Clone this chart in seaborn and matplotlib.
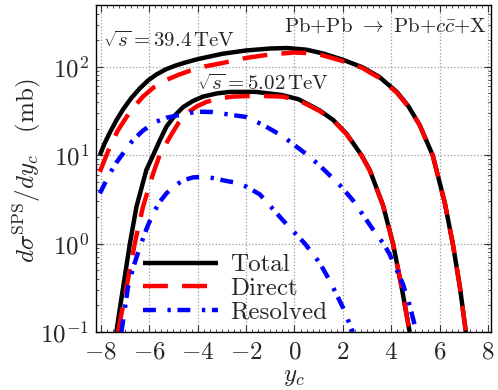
import matplotlib
matplotlib.use("Agg")
import numpy as np
import pandas as pd
import matplotlib.pyplot as plt
import seaborn as sns
from matplotlib.ticker import MultipleLocator, LogLocator, NullFormatter

# ---------------- data ----------------
# sqrt(s) = 39.4 TeV
x_tot_394 = [-8.04, -7.85, -7.63, -7.35, -7.08, -6.75, -6.39, -6.05, -5.7, -5.3, -4.88, -4.5,
             -4.0, -3.0, -2.0, -1.0, -0.3, 0.5, 1.2, 2.0, 2.8, 3.5, 4.23, 4.7, 5.17, 5.71,
             6.21, 6.54, 6.83, 7.08]
y_tot_394 = [10, 13.5, 18, 25, 33, 44, 57, 70, 82, 94, 104, 112,
             122, 140, 153, 161, 163, 156, 141, 120, 99, 77, 52, 36, 22, 10,
             2.9, 1.0, 0.33, 0.1]

x_dir_394 = [-8.04, -7.63, -7.3, -6.94, -6.6, -6.26, -5.8, -5.29, -4.8, -4.33, -3.7, -3.0,
             -2.0, -1.0, 0.0, 0.8, 1.2, 2.0, 2.8, 3.5, 4.23, 4.7, 5.17, 5.71, 6.21, 6.54,
             6.83, 7.08]
y_dir_394 = [6.5, 12.4, 19, 27, 36, 46, 59, 71, 81, 90, 101, 110,
             126, 138, 145, 142, 134, 116, 97, 75, 51, 35.5, 22, 10, 2.9, 1.0,
             0.33, 0.1]

x_res_394 = [-8.04, -7.63, -7.35, -7.08, -6.7, -6.26, -5.7, -5.3, -4.88, -4.4, -3.91, -3.4,
             -2.95, -1.98, -1.3, -0.5, 0.0, 0.55, 1.05, 1.87, 2.41, 3.24, 3.7, 3.94, 4.48,
             4.76, 5.04]
y_res_394 = [3.7, 6.2, 8.3, 10.5, 14.5, 19, 24, 26.5, 28, 30, 31, 30.8,
             29.5, 27, 22, 16.5, 13, 10, 7.6, 4.6, 3.1, 1.45, 0.98, 0.75, 0.35,
             0.2, 0.1]

# sqrt(s) = 5.02 TeV
x_tot_502 = [-7.36, -7.08, -6.8, -6.53, -6.12, -5.84, -5.55, -5.29, -4.95, -4.6, -4.2, -3.78,
             -3.2, -2.67, -1.6, -0.53, 0.16, 1.05, 1.6, 2.15, 2.77, 3.11, 3.66, 4.07, 4.42,
             4.76]
y_tot_502 = [0.1, 0.32, 1.0, 2.6, 6.8, 10, 15, 21, 28, 35, 41, 46,
             50, 52, 52, 48, 43, 32, 25, 17.5, 10, 6.8, 2.7, 1.0, 0.33,
             0.1]

x_dir_502 = [-7.29, -6.94, -6.6, -6.26, -5.84, -5.57, -5.15, -4.8, -4.46, -4.05, -3.64, -3.1,
             -2.54, -1.57, -0.5, 0.16, 1.05, 1.6, 2.15, 2.77, 3.11, 3.66, 4.07, 4.42, 4.76]
y_dir_502 = [0.1, 0.32, 1.0, 2.6, 6.2, 10, 16, 23, 29.5, 35.5, 40, 44,
             46, 47, 46, 42, 31.5, 24.7, 17.3, 9.9, 6.7, 2.7, 1.0, 0.33, 0.1]

x_res_502 = [-7.15, -6.88, -6.65, -6.39, -6.1, -5.84, -5.55, -5.29, -4.95, -4.6, -4.2, -3.78,
             -3.35, -2.95, -2.45, -1.98, -1.43, -0.48, 0.43, 1.05, 1.46, 2.0, 2.41]
y_res_502 = [0.1, 0.32, 0.55, 0.91, 1.5, 2.2, 3.0, 3.7, 4.5, 5.2, 5.6, 5.7,
             5.5, 5.2, 4.9, 4.4, 3.6, 1.84, 1.0, 0.6, 0.38, 0.19, 0.1]

x_ticks = [-8, -6, -4, -2, 0, 2, 4, 6, 8]
legend_labels = ["Total", "Direct", "Resolved"]
energy_labels = [r"$\sqrt{s}=39.4\,\mathrm{TeV}$", r"$\sqrt{s}=5.02\,\mathrm{TeV}$"]
process_label = r"Pb+Pb $\rightarrow$ Pb+$c\bar{c}$+X"

# ---------------- style ----------------
sns.set_theme(style="ticks")
plt.rcParams["font.family"] = ["cmr10", "DejaVu Serif"]
plt.rcParams["mathtext.fontset"] = "cm"
plt.rcParams["axes.formatter.use_mathtext"] = True
plt.rcParams["axes.unicode_minus"] = True

fig = plt.figure(figsize=(4.98, 3.90), dpi=100)
ax = fig.add_axes([96 / 498, 1 - 332 / 390, 395 / 498, 327 / 390])

LW = 3.2
styles = {
    "Total": dict(color="black", dashes=None),
    "Direct": dict(color="#ff0000", dashes=(5.6, 3.2)),
    "Resolved": dict(color="#0000ff", dashes=(2.9, 2.6, 0.75, 1.5)),
}

series = [
    ("Total", x_tot_394, y_tot_394),
    ("Total", x_tot_502, y_tot_502),
    ("Direct", x_dir_394, y_dir_394),
    ("Direct", x_dir_502, y_dir_502),
    ("Resolved", x_res_394, y_res_394),
    ("Resolved", x_res_502, y_res_502),
]

handles = {}
for kind, xs, ys in series:
    df = pd.DataFrame({"y_c": xs, "sigma": ys})
    n_before = len(ax.lines)
    sns.lineplot(data=df, x="y_c", y="sigma", ax=ax, color=styles[kind]["color"],
                 linewidth=LW, sort=False, estimator=None, legend=False)
    line = ax.lines[n_before]
    if styles[kind]["dashes"] is not None:
        line.set_dashes(styles[kind]["dashes"])
    line.set_solid_capstyle("butt")
    line.set_dash_capstyle("butt")
    line.set_solid_joinstyle("round")
    handles.setdefault(kind, line)

ax.set_yscale("log")
ax.set_xlim(-8.2, 8.12)
ax.set_ylim(0.1, 500)

ax.xaxis.set_major_locator(MultipleLocator(2))
ax.xaxis.set_minor_locator(MultipleLocator(0.25))
ax.set_xticks(x_ticks)
ax.yaxis.set_major_locator(LogLocator(base=10, numticks=10))
ax.yaxis.set_minor_locator(LogLocator(base=10, subs=np.arange(2, 10), numticks=20))
ax.yaxis.set_minor_formatter(NullFormatter())

ax.tick_params(which="both", direction="in", top=True, right=True, labelsize=18, color="#333333")
ax.tick_params(which="major", length=5, width=0.8)
ax.tick_params(axis="x", which="major", pad=7)
ax.tick_params(axis="y", which="major", pad=5)
ax.tick_params(which="minor", length=2.5, width=0.6)
ax.grid(True, which="major", linestyle=":", color="#9a9a9a", linewidth=0.9)
ax.grid(False, which="minor")
for sp in ax.spines.values():
    sp.set_color("black")
    sp.set_linewidth(1.0)

ax.set_xlabel(r"$y_c$", fontsize=18, va="center")
ax.xaxis.set_label_coords(0.5, -0.138)
ax.set_ylabel(r"$d\sigma^{\mathrm{SPS}}/dy_c\quad(\mathrm{mb})$", fontsize=18, va="center")
ax.yaxis.set_label_coords(-0.175, 0.492)

ax.text(0.018, 0.872, energy_labels[0], transform=ax.transAxes, fontsize=15,
        ha="left", va="baseline")
ax.text(0.256, 0.74, energy_labels[1], transform=ax.transAxes, fontsize=15,
        ha="left", va="baseline")
ax.text(0.99, 0.918, process_label, transform=ax.transAxes, fontsize=15,
        ha="right", va="baseline")

ax.legend([handles[k] for k in legend_labels], legend_labels, loc="lower left",
          bbox_to_anchor=(0.119, 0.025), frameon=False, fontsize=18, borderpad=0,
          borderaxespad=0, handlelength=3.0, handletextpad=0.5, labelspacing=0.05)

fig.savefig("out.png", dpi=100)
